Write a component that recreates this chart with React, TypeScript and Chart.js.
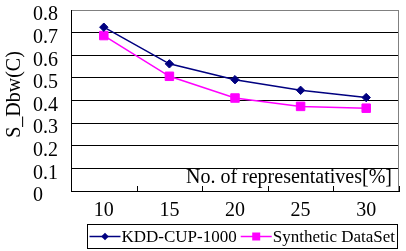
import React, { useEffect, useRef } from 'react';
import { Chart, registerables } from 'chart.js';

Chart.register(...registerables);

const categories = ['10', '15', '20', '25', '30'];
const kddValues = [0.724, 0.562, 0.492, 0.445, 0.413];
const syntheticValues = [0.687, 0.507, 0.411, 0.374, 0.366];
const seriesNames = ['KDD-CUP-1000', 'Synthetic DataSet'];
const seriesColors = ['#000080', '#FF00FF'];
const xTitle = 'No. of representatives[%]';
const yTitle = 'S_Dbw(C)';
const yTickValues = [0, 0.1, 0.2, 0.3, 0.4, 0.5, 0.6, 0.7, 0.8];
const yTickLabels = ['0', '0.1', '0.2', '0.3', '0.4', '0.5', '0.6', '0.7', '0.8'];

const FONT = 'Liberation Serif';

const decorPlugin = {
  id: 'decor',
  afterDraw(chart: any) {
    const { ctx, chartArea: a } = chart;
    const x = chart.scales.x;
    ctx.save();
    // right border
    ctx.strokeStyle = '#808080';
    ctx.lineWidth = 1;
    const rx = Math.round(a.right) - 0.5;
    ctx.beginPath();
    ctx.moveTo(rx, a.top);
    ctx.lineTo(rx, a.bottom);
    ctx.stroke();
    // x tick marks (upward, at category boundaries)
    ctx.strokeStyle = '#000';
    const n = categories.length;
    const step = (x.right - x.left) / n;
    for (let i = 0; i <= n; i++) {
      const px = Math.round(x.left + i * step) + 0.5;
      ctx.beginPath();
      ctx.moveTo(px, a.bottom);
      ctx.lineTo(px, a.bottom - 5);
      ctx.stroke();
    }
    // x title inside plot area
    ctx.fillStyle = '#000';
    ctx.font = `20px "${FONT}"`;
    ctx.textAlign = 'right';
    ctx.textBaseline = 'alphabetic';
    ctx.fillText(xTitle, a.right - 7, a.bottom - 8);
    // y title rotated
    ctx.save();
    ctx.translate(15, (a.top + a.bottom) / 2 - 6);
    ctx.rotate(-Math.PI / 2);
    ctx.textAlign = 'center';
    ctx.textBaseline = 'middle';
    ctx.fillText(yTitle, 0, 0);
    ctx.restore();
    // legend
    ctx.font = `17px "${FONT}"`;
    const w1 = ctx.measureText(seriesNames[0]).width;
    const w2 = ctx.measureText(seriesNames[1]).width;
    const sample = 31;
    const contentW = 2 + sample + 1 + w1 + 4 + sample + 1 + w2 + 3;
    const boxRight = Math.round(a.right) - 1.5;
    const boxLeft = Math.round(boxRight - contentW) + 0.5;
    const boxTop = Math.round(a.bottom) + 33.5;
    const boxH = 24;
    ctx.strokeStyle = '#000';
    ctx.lineWidth = 1;
    ctx.strokeRect(boxLeft, boxTop, boxRight - boxLeft, boxH);
    const cy = boxTop + boxH / 2;
    let lx = boxLeft + 2;
    const widths = [w1, w2];
    for (let i = 0; i < 2; i++) {
      ctx.strokeStyle = seriesColors[i];
      ctx.fillStyle = seriesColors[i];
      ctx.lineWidth = 1.5;
      ctx.beginPath();
      ctx.moveTo(lx, cy);
      ctx.lineTo(lx + sample, cy);
      ctx.stroke();
      const mx = lx + sample / 2;
      ctx.beginPath();
      if (i === 0) {
        const r = 3.8;
        ctx.moveTo(mx - r, cy);
        ctx.lineTo(mx, cy - r);
        ctx.lineTo(mx + r, cy);
        ctx.lineTo(mx, cy + r);
        ctx.closePath();
      } else {
        const h = 4;
        ctx.rect(mx - h, cy - h, 2 * h, 2 * h);
      }
      ctx.fill();
      ctx.fillStyle = '#000';
      ctx.textAlign = 'left';
      ctx.textBaseline = 'middle';
      ctx.fillText(seriesNames[i], lx + sample + 1, cy + 1);
      lx += sample + 1 + widths[i] + 4;
    }
    ctx.restore();
  },
};

export default function App() {
  const ref = useRef<HTMLCanvasElement>(null);
  useEffect(() => {
    if (!ref.current) return;
    const chart = new Chart(ref.current, {
      type: 'line',
      data: {
        labels: categories,
        datasets: [
          {
            label: seriesNames[0],
            data: kddValues,
            borderColor: seriesColors[0],
            backgroundColor: seriesColors[0],
            borderWidth: 1.5,
            pointStyle: 'rectRot',
            pointRadius: 4.2,
            pointBorderWidth: 1,
            tension: 0,
          },
          {
            label: seriesNames[1],
            data: syntheticValues,
            borderColor: seriesColors[1],
            backgroundColor: seriesColors[1],
            borderWidth: 1.5,
            pointStyle: 'rect',
            pointRadius: 6,
            pointBorderWidth: 1,
            tension: 0,
          },
        ],
      },
      options: {
        responsive: false,
        animation: false,
        layout: { padding: { left: 33, right: 4, top: 10, bottom: 34 } },
        plugins: {
          legend: { display: false },
          tooltip: { enabled: false },
        },
        scales: {
          x: {
            type: 'category',
            offset: true,
            grid: { display: false, drawTicks: false },
            border: { display: true, color: '#000', width: 1 },
            ticks: {
              color: '#000',
              font: { family: FONT, size: 20 },
              padding: 8,
              maxRotation: 0,
            },
            afterFit: (s: any) => {
              s.height = 26;
            },
          },
          y: {
            min: yTickValues[0],
            max: yTickValues[yTickValues.length - 1],
            grid: {
              color: (c: any) =>
                c.tick && Math.abs(c.tick.value - yTickValues[yTickValues.length - 1]) < 1e-6 ? '#808080' : '#000',
              lineWidth: 1,
              drawTicks: false,
            },
            border: { display: true, color: '#000', width: 1 },
            afterBuildTicks: (s: any) => {
              s.ticks = yTickValues.map((v) => ({ value: v }));
            },
            ticks: {
              autoSkip: false,
              color: '#000',
              font: { family: FONT, size: 20 },
              crossAlign: 'far',
              labelOffset: 5,
              padding: 0,
              callback: (_v: any, i: number) => yTickLabels[i],
            },
            afterFit: (s: any) => {
              s.width = 38;
              s.paddingTop = 0;
              s.paddingBottom = 0;
            },
          },
        },
      },
      plugins: [decorPlugin],
    });
    return () => chart.destroy();
  }, []);
  return (
    <div style={{ position: 'fixed', left: 0, top: 0, width: 406, height: 251, background: '#fff' }}>
      <canvas ref={ref} width={406} height={251} />
    </div>
  );
}
